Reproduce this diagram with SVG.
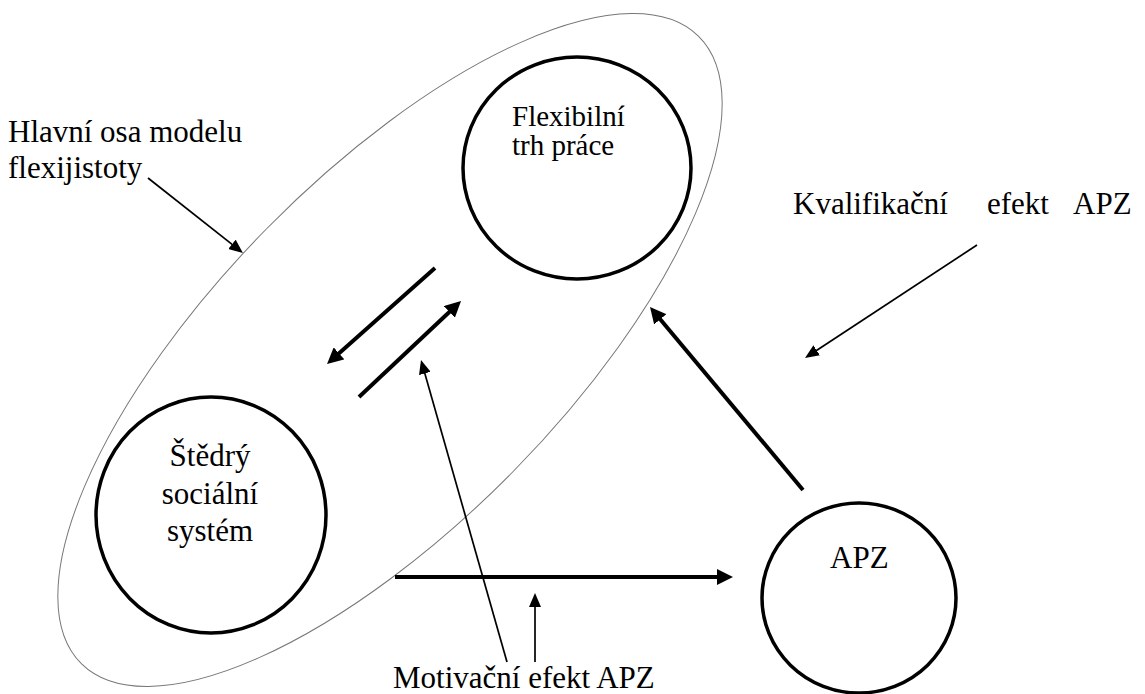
<svg xmlns="http://www.w3.org/2000/svg" width="1145" height="694" viewBox="0 0 1145 694">
<defs>
<style>
text{font-family:'Liberation Serif','Times New Roman',serif;font-size:31px;fill:#000}
.node{fill:none;stroke:#000;stroke-width:3.5}
.thick{stroke:#000;stroke-width:4;fill:none;marker-end:url(#hb)}
.thin{stroke:#000;stroke-width:1.7;fill:none;marker-end:url(#hs)}
.axis{fill:none;stroke:#777;stroke-width:1}
</style>
<marker id="hb" markerUnits="userSpaceOnUse" markerWidth="18" markerHeight="16" refX="4" refY="8" orient="auto"><path d="M0,0 L16,8 L0,16 z" fill="#000"/></marker>
<marker id="hs" markerUnits="userSpaceOnUse" markerWidth="16" markerHeight="12" refX="3" refY="6" orient="auto"><path d="M0,0 L14,6 L0,12 z" fill="#000"/></marker>
</defs>
<rect width="1145" height="694" fill="#fff"/>
<g id="axis-ellipse"><ellipse class="axis" cx="390" cy="350" rx="440" ry="173" transform="rotate(-45.5 390 350)"/></g>
<g id="node-flex"><ellipse class="node" cx="577" cy="168" rx="114" ry="111"/><text x="512" y="126" style="font-size:29px">Flexibilní</text><text x="512" y="155" style="font-size:29px">trh práce</text></g>
<g id="node-social"><ellipse class="node" cx="211" cy="515" rx="115" ry="118"/><text x="210" y="466" text-anchor="middle">Štědrý</text><text x="210" y="504" text-anchor="middle">sociální</text><text x="210" y="541" text-anchor="middle">systém</text></g>
<g id="node-apz"><ellipse class="node" cx="859" cy="598" rx="97" ry="95"/><text x="830" y="568">APZ</text></g>
<g id="label-axis"><text x="8" y="142">Hlavní osa modelu</text><text x="8" y="178">flexijistoty</text></g>
<g id="label-kval"><text x="793" y="214">Kvalifikační</text><text x="987" y="214">efekt</text><text x="1073" y="214">APZ</text></g>
<g id="label-motiv"><text x="393" y="688">Motivační efekt APZ</text></g>
<g id="connectors">
<line class="thick" x1="803" y1="490" x2="657.7" y2="316.2"/>
<line class="thick" x1="395" y1="577" x2="721" y2="577"/>
<line class="thick" x1="435" y1="268" x2="336" y2="356"/>
<line class="thick" x1="359" y1="397" x2="452.3" y2="309.2"/>
<line class="thin" x1="148" y1="178" x2="234.3" y2="246.2"/>
<line class="thin" x1="977" y1="245" x2="814.2" y2="352"/>
<line class="thin" x1="507" y1="662" x2="424" y2="370.6"/>
<line class="thin" x1="535" y1="662" x2="535" y2="604"/>
</g>
</svg>
